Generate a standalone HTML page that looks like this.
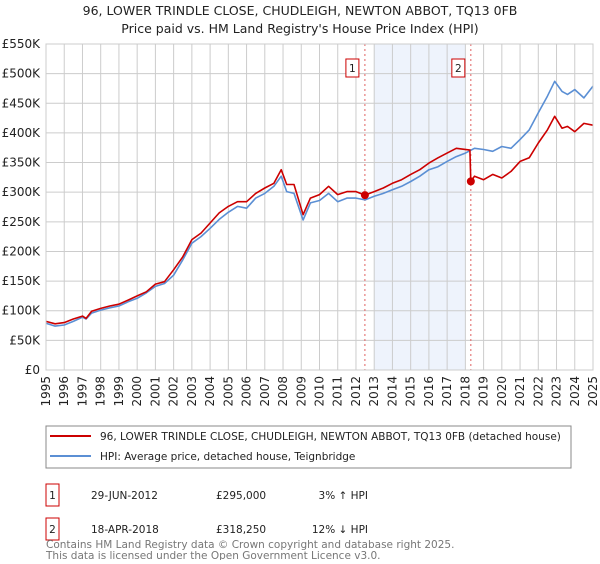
<!DOCTYPE html>
<html><head><meta charset="utf-8"><style>
body{margin:0;background:#fff;width:600px;height:560px;overflow:hidden;font-family:"DejaVu Sans","Liberation Sans",sans-serif}
svg text{font-family:"DejaVu Sans","Liberation Sans",sans-serif}
</style></head><body>
<svg id="chart" width="600" height="560" xmlns="http://www.w3.org/2000/svg">
<text x="300" y="15" text-anchor="middle" font-size="12.5" fill="#222">96, LOWER TRINDLE CLOSE, CHUDLEIGH, NEWTON ABBOT, TQ13 0FB</text>
<text x="300" y="33" text-anchor="middle" font-size="12.5" fill="#222">Price paid vs. HM Land Registry's House Price Index (HPI)</text>
<g id="plot"></g>
<rect x="46" y="426" width="525" height="42" fill="#fff" stroke="#888"/>
<line x1="50" y1="436" x2="91" y2="436" stroke="#cc0000" stroke-width="2"/>
<text x="100" y="440" font-size="10.5" fill="#222">96, LOWER TRINDLE CLOSE, CHUDLEIGH, NEWTON ABBOT, TQ13 0FB (detached house)</text>
<line x1="50" y1="456" x2="91" y2="456" stroke="#5b8fd4" stroke-width="2"/>
<text x="100" y="460" font-size="10.5" fill="#222">HPI: Average price, detached house, Teignbridge</text>
<g>
<rect x="46" y="484" width="13" height="22" fill="#fff" stroke="#cc0000"/>
<text x="52.5" y="499" text-anchor="middle" font-size="10.5" fill="#222">1</text>
<text x="91" y="499" font-size="10.5" fill="#222">29-JUN-2012</text>
<text x="216" y="499" font-size="10.5" fill="#222">£295,000</text>
<text x="368" y="499" text-anchor="end" font-size="10.5" fill="#222">3% ↑ HPI</text>
</g>
<g>
<rect x="46" y="518" width="13" height="22" fill="#fff" stroke="#cc0000"/>
<text x="52.5" y="533" text-anchor="middle" font-size="10.5" fill="#222">2</text>
<text x="91" y="533" font-size="10.5" fill="#222">18-APR-2018</text>
<text x="216" y="533" font-size="10.5" fill="#222">£318,250</text>
<text x="368" y="533" text-anchor="end" font-size="10.5" fill="#222">12% ↓ HPI</text>
</g>
<text x="46" y="548" font-size="10.5" fill="#777">Contains HM Land Registry data © Crown copyright and database right 2025.</text>
<text x="46" y="559" font-size="10.5" fill="#777">This data is licensed under the Open Government Licence v3.0.</text>
</svg>
<script>
const yTicks=[0,50,100,150,200,250,300,350,400,450,500,550];
const years=[1995,1996,1997,1998,1999,2000,2001,2002,2003,2004,2005,2006,2007,2008,2009,2010,2011,2012,2013,2014,2015,2016,2017,2018,2019,2020,2021,2022,2023,2024,2025];
const hpiT=[1995,1995.5,1996,1996.5,1997,1997.2,1997.5,1998,1998.5,1999,1999.5,2000,2000.5,2001,2001.5,2002,2002.5,2003,2003.5,2004,2004.5,2005,2005.5,2006,2006.5,2007,2007.5,2007.9,2008.2,2008.6,2009.1,2009.5,2010,2010.5,2011,2011.5,2012,2012.5,2013,2013.5,2014,2014.5,2015,2015.5,2016,2016.5,2017,2017.5,2018,2018.5,2019,2019.5,2020,2020.5,2021,2021.5,2022,2022.5,2022.9,2023.3,2023.6,2024,2024.5,2025];
const hpiV=[79,74,76,82,89,86,96,101,105,108,115,121,130,141,146,160,186,214,225,239,254,266,276,273,290,298,310,327,301,298,253,282,286,298,284,290,290,287,293,298,304,310,318,327,338,343,352,360,366,374,372,369,377,374,389,405,434,462,487,470,465,473,459,479];
const redT=[1995,1995.5,1996,1996.5,1997,1997.2,1997.5,1998,1998.5,1999,1999.5,2000,2000.5,2001,2001.5,2002,2002.5,2003,2003.5,2004,2004.5,2005,2005.5,2006,2006.5,2007,2007.5,2007.9,2008.2,2008.6,2009.1,2009.5,2010,2010.5,2011,2011.5,2012,2012.49,2013,2013.5,2014,2014.5,2015,2015.5,2016,2016.5,2017,2017.5,2018.25,2018.3,2018.5,2019,2019.5,2020,2020.5,2021,2021.5,2022,2022.5,2022.9,2023.3,2023.6,2024,2024.5,2025];
const redV=[82,78,80,86,91,87,99,104,108,111,118,125,132,145,149,169,191,220,231,248,265,276,284,284,298,307,315,338,313,313,262,290,296,310,296,301,301,295,301,307,315,321,330,338,349,358,366,374,371,318,327,321,330,324,335,352,358,383,405,428,408,411,402,416,413];
const saleT=[2012.49,2018.3];
const saleV=[295,318.25];
const bandStart=2013, bandEnd=2018;
const NS="http://www.w3.org/2000/svg";
const x=t=>46+(t-1995)*(547/30);
const y=v=>370-v*(326/550);
const g=document.getElementById('plot');
function mk(tag,attrs){const e=document.createElementNS(NS,tag);for(const k in attrs)e.setAttribute(k,attrs[k]);g.appendChild(e);return e;}
let e=mk('rect',{x:x(bandStart),y:y(550),width:x(bandEnd)-x(bandStart),height:y(0)-y(550),fill:'#eef3fc'});


yTicks.forEach(v=>{
 let l=mk('line',{x1:46,x2:593,y1:y(v),y2:y(v),stroke:'#ccc'});
 
 
 let t=mk('text',{x:40,y:y(v)+4,'text-anchor':'end','font-size':'12',fill:'#222'});
 t.textContent='£'+(v===0?'0':v+'K');
 
 
});
years.forEach(yr=>{
 let l=mk('line',{x1:x(yr),x2:x(yr),y1:y(550),y2:y(0),stroke:'#ccc'});
 
 
 let t=mk('text',{x:0,y:0,'text-anchor':'end','font-size':'12',fill:'#222',transform:`translate(${x(yr)+4},376) rotate(-90)`});
 t.textContent=yr;
 
 
});
saleT.forEach((t,i)=>{
 let l=mk('line',{x1:x(t),x2:x(t),y1:y(550),y2:y(0),stroke:'#e06060','stroke-dasharray':'2,3'});
 
 
 let r=mk('rect',{x:x(t)-19,y:59,width:13,height:18,fill:'#fff',stroke:'#cc0000'});
 
 
 let tx=mk('text',{x:x(t)-12.5,y:72,'text-anchor':'middle','font-size':'10.5',fill:'#222'});
 tx.textContent=String(i+1);
 
 
});
function path(T,V,col,name){
 let d=T.map((t,i)=>(i?'L':'M')+x(t).toFixed(1)+','+y(V[i]).toFixed(1)).join('');
 let p=mk('path',{d:d,fill:'none',stroke:col,'stroke-width':1.6,'stroke-linejoin':'round'});
 
 
}
path(hpiT,hpiV,'#5b8fd4','hpi-line');
path(redT,redV,'#cc0000','price-paid-line');
saleT.forEach((t,i)=>{
 let c=mk('circle',{cx:x(t),cy:y(saleV[i]),r:4,fill:'#cc0000'});
 
 
});
let ax=mk('rect',{x:46,y:y(550),width:547,height:y(0)-y(550),fill:'none',stroke:'#ccc'});


</script>
</body></html>
